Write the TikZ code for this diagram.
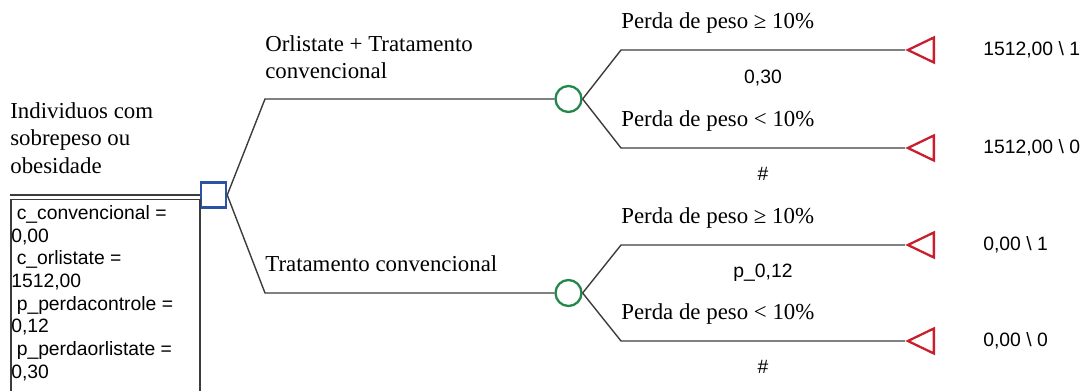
\documentclass[tikz,border=0pt]{standalone}
\usepackage{fontspec}
\setmainfont{Liberation Serif}
\newfontfamily\arialfont{Liberation Sans}
\usepackage{tikz}
\usetikzlibrary{shapes.geometric, positioning, calc}
\definecolor{decblue}{RGB}{44,82,164}
\definecolor{chancegreen}{RGB}{35,135,75}
\definecolor{termred}{RGB}{200,30,45}
\definecolor{linegray}{RGB}{60,60,60}
\tikzset{
  decision/.style={
      draw=decblue,
      line width=1.4pt,
      rectangle,
      minimum size=0.5cm,
      inner sep=0pt
  },
  chance/.style={
      draw=chancegreen,
      line width=1.3pt,
      circle,
      minimum size=0.52cm,
      inner sep=0pt
  },
  terminal/.style={
      draw=termred,
      line width=1.3pt,
      isosceles triangle,
      shape border rotate=180,
      isosceles triangle stretches,
      minimum width=0.5cm,
      minimum height=0.52cm,
      inner sep=0pt
  },
  branch/.style={draw=linegray, line width=0.8pt},
  armtext/.style={font=\fontsize{13}{15.8}\selectfont, inner sep=0pt, align=left},
  valtext/.style={font=\arialfont\fontsize{11}{12.9}\selectfont, inner sep=0pt, align=left}
}

\begin{document}
\begin{tikzpicture}[x=0.02cm, y=-0.02cm]
      \useasboundingbox (0,0) rectangle (1086,391);
      % Decision
      \node (root) [decision] at (213.5,195) {};
      \node (rootlabel) [armtext, anchor=north west] at (10,102) {Individuos com\\sobrepeso ou\\obesidade};
      \node (params) [valtext, anchor=north west] at (11,205)
        {\hspace*{0.28em}c\_convencional =\\0,00\\\hspace*{0.28em}c\_orlistate =\\1512,00\\
         \hspace*{0.28em}p\_perdacontrole =\\0,12\\\hspace*{0.28em}p\_perdaorlistate =\\0,30};
      \draw[linegray, line width=0.8pt] (10,195) -- (root.west);
      \draw[linegray, line width=0.8pt] (11,392) -- (11,199.5) -- (200,199.5) -- (200,392);

      % Chance nodes
      \node (orli) [chance] at (568.5,99) {};
      \node (conv) [chance] at (568.5,293) {};
      \coordinate (kx) at (265,0);
      \coordinate (lx) at (621,0);

      % Terminals
      \node (t1) [terminal] at (926,50) {};
      \node (t2) [terminal] at (926,148) {};
      \node (t3) [terminal] at (926,245) {};
      \node (t4) [terminal] at (926,341) {};

      % Payoffs
      \node (v1) [valtext, right=0.96cm of t1] {1512,00 \textbackslash\ 1};
      \node (v2) [valtext, right=0.96cm of t2] {1512,00 \textbackslash\ 0};
      \node (v3) [valtext, right=0.96cm of t3] {0,00 \textbackslash\ 1};
      \node (v4) [valtext, right=0.96cm of t4] {0,00 \textbackslash\ 0};

      % Branch texts
      \node (a1) [armtext, anchor=north west] at (265,35) {Orlistate + Tratamento\\convencional};
      \node (a2) [armtext, anchor=base west] at (265,272) {Tratamento convencional};
      \node (b1) [armtext, anchor=base west] at (621,29) {Perda de peso ≥ 10\%};
      \node (b2) [armtext, anchor=base west] at (621,127) {Perda de peso < 10\%};
      \node (b3) [armtext, anchor=base west] at (621,224) {Perda de peso ≥ 10\%};
      \node (b4) [armtext, anchor=base west] at (621,320) {Perda de peso < 10\%};
      \node (p1) [valtext, anchor=base] at (763,84) {0,30};
      \node (p2) [valtext, anchor=base] at (763,181) {\#};
      \node (p3) [valtext, anchor=base] at (763,278) {p\_0,12};
      \node (p4) [valtext, anchor=base] at (763,374) {\#};

      % Connections
      \draw[branch] (root.east) -- (orli -| kx) -- (orli.west);
      \draw[branch] (root.east) -- (conv -| kx) -- (conv.west);
      \draw[branch] (orli.east) -- (t1.apex -| lx) -- (t1.apex);
      \draw[branch] (orli.east) -- (t2.apex -| lx) -- (t2.apex);
      \draw[branch] (conv.east) -- (t3.apex -| lx) -- (t3.apex);
      \draw[branch] (conv.east) -- (t4.apex -| lx) -- (t4.apex);
    \end{tikzpicture}
\end{document}
